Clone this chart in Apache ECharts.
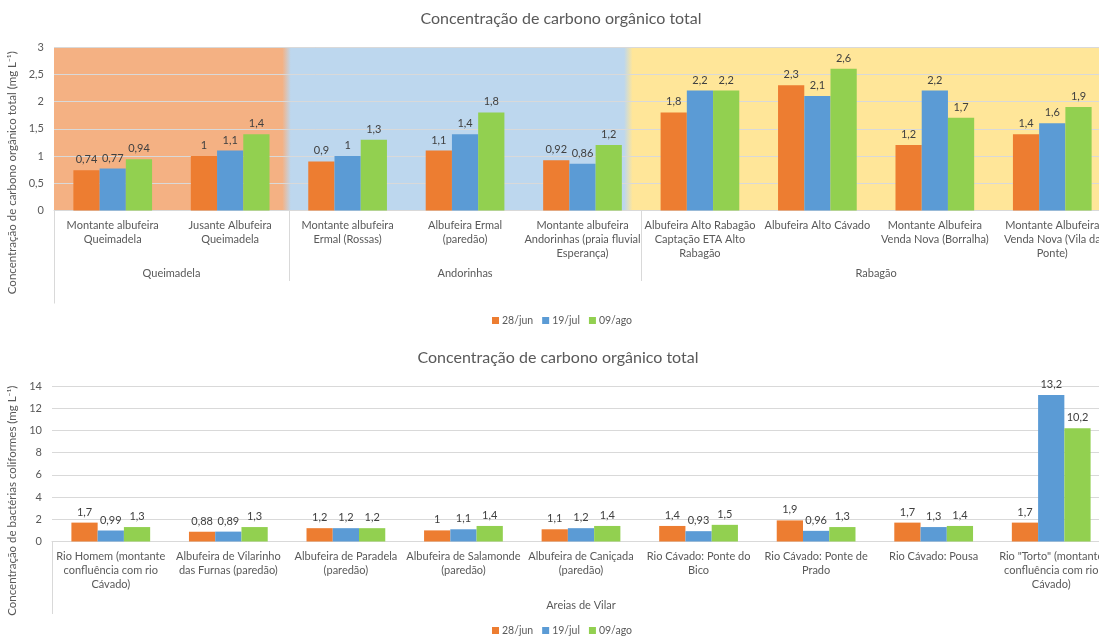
<!DOCTYPE html>
<html>
<head>
<meta charset="utf-8">
<script src="https://cdn.jsdelivr.net/npm/echarts@6/dist/echarts.min.js"></script>
<style>
  html, body { margin: 0; padding: 0; background: #fff; }
  #chart { width: 1099px; height: 636px; }
</style>
</head>
<body>
<div id="chart"></div>
<script>
// ---- Carbono orgânico total: albufeiras (Queimadela, Andorinhas, Rabagão) ----
const cotCategories = [
  'Montante albufeira\nQueimadela',
  'Jusante Albufeira\nQueimadela',
  'Montante albufeira\nErmal (Rossas)',
  'Albufeira Ermal\n(paredão)',
  'Montante albufeira\nAndorinhas (praia fluvial\nEsperança)',
  'Albufeira Alto Rabagão\nCaptação ETA Alto\nRabagão',
  'Albufeira Alto Cávado',
  'Montante Albufeira\nVenda Nova (Borralha)',
  'Montante Albufeira\nVenda Nova (Vila da\nPonte)'
];
const cotJun = [0.74, 1, 0.9, 1.1, 0.92, 1.8, 2.3, 1.2, 1.4];
const cotJul = [0.77, 1.1, 1, 1.4, 0.86, 2.2, 2.1, 2.2, 1.6];
const cotAgo = [0.94, 1.4, 1.3, 1.8, 1.2, 2.2, 2.6, 1.7, 1.9];

// Groups of the upper chart: name, label position and start of each group (in category units)
const cotGroups = ['Queimadela', 'Andorinhas', 'Rabagão'];
const cotGroupCenters = [1, 3.5, 7];
const cotGroupStarts = [0, 2, 5];
// Shaded backgrounds behind the groups (start/end in category units)
const cotRegionBounds = [0, 1.98, 4.89, 9];

// ---- Second chart: Areias de Vilar ----
const vilarCategories = [
  'Rio Homem (montante\nconfluência com rio\nCávado)',
  'Albufeira de Vilarinho\ndas Furnas (paredão)',
  'Albufeira de Paradela\n(paredão)',
  'Albufeira de Salamonde\n(paredão)',
  'Albufeira de Caniçada\n(paredão)',
  'Rio Cávado: Ponte do\nBico',
  'Rio Cávado: Ponte de\nPrado',
  'Rio Cávado: Pousa',
  'Rio "Torto" (montante\nconfluência com rio\nCávado)'
];
const vilarJun = [1.7, 0.88, 1.2, 1, 1.1, 1.4, 1.9, 1.7, 1.7];
const vilarJul = [0.99, 0.89, 1.2, 1.1, 1.2, 0.93, 0.96, 1.3, 13.2];
const vilarAgo = [1.3, 1.3, 1.2, 1.4, 1.4, 1.5, 1.3, 1.4, 10.2];
const vilarGroup = 'Areias de Vilar';

const seriesNames = ['28/jun', '19/jul', '09/ago'];

// ---- styling ----
const FONT = 'Lato, "Open Sans", sans-serif';
const TEXT = '#595959';
const LABEL = '#404040';
const GRID_LINE = '#D9D9D9';
const COLORS = ['#ED7D31', '#5B9BD5', '#92D050'];
const REGION_COLORS = ['#F4B183', '#BDD7EE', '#FFE699'];

const comma = v => String(v).replace('.', ',');

function regionGradient() {
  const total = cotRegionBounds[cotRegionBounds.length - 1];
  const stops = [];
  const soft = 0.004;
  for (let i = 0; i < REGION_COLORS.length; i++) {
    const a = cotRegionBounds[i] / total;
    const b = cotRegionBounds[i + 1] / total;
    stops.push({ offset: i === 0 ? a : a + soft, color: REGION_COLORS[i] });
    stops.push({ offset: i === REGION_COLORS.length - 1 ? b : b - soft, color: REGION_COLORS[i] });
  }
  return new echarts.graphic.LinearGradient(0, 0, 1, 0, stops);
}

function barSeries(name, data, color, xIdx, yIdx) {
  return {
    name, type: 'bar', data,
    xAxisIndex: xIdx, yAxisIndex: yIdx,
    barGap: '0%', barCategoryGap: '33%',
    z: 2,
    itemStyle: { color },
    label: {
      show: true, position: 'top', distance: 5,
      color: LABEL, fontFamily: FONT, fontSize: 11,
      formatter: p => comma(p.value)
    },
    emphasis: { disabled: true }
  };
}

function categoryAxis(gridIndex, data, margin) {
  return {
    type: 'category', gridIndex, data,
    axisLine: { show: true, lineStyle: { color: GRID_LINE, width: 1 } },
    axisTick: { show: false },
    axisLabel: {
      interval: 0, margin, color: TEXT, fontFamily: FONT,
      fontSize: 11, lineHeight: 14, hideOverlap: false
    },
    splitLine: { show: false }
  };
}

// hidden value axis spanning the categories, used for group labels and divider ticks
function groupAxis(gridIndex, offset, tickValues, labelValues, labelNames, labelMargin) {
  return {
    type: 'value', gridIndex, position: 'bottom', offset,
    min: 0, max: 9,
    axisLine: { show: false },
    splitLine: { show: false },
    axisTick: {
      show: true, inside: true, length: offset,
      customValues: tickValues,
      lineStyle: { color: GRID_LINE, width: 1 }
    },
    axisLabel: {
      show: labelValues.length > 0,
      customValues: labelValues,
      margin: labelMargin,
      color: TEXT, fontFamily: FONT, fontSize: 11,
      formatter: v => {
        const i = labelValues.indexOf(v);
        return i >= 0 ? labelNames[i] : '';
      }
    }
  };
}

function valueAxis(gridIndex, max, interval, name, nameGap, shift) {
  return {
    type: 'value', gridIndex, min: 0, max, interval,
    z: 1.5,
    axisLine: { show: false },
    axisTick: { show: false },
    axisLabel: { color: TEXT, fontFamily: FONT, fontSize: 11, margin: 10, formatter: comma },
    splitLine: { show: true, lineStyle: { color: GRID_LINE, width: 1 } },
    name, nameLocation: 'middle', nameGap,
    nameTextStyle: { color: TEXT, fontFamily: FONT, fontSize: 11.5, padding: [0, shift * 2, 0, 0] }
  };
}

const legendBase = {
  data: seriesNames,
  icon: 'rect', itemWidth: 7, itemHeight: 7, itemGap: 9,
  textStyle: { color: TEXT, fontFamily: FONT, fontSize: 10.5, padding: [0, 0, 0, -2] },
  padding: 0,
  selectedMode: false
};

const option = {
  animation: false,
  backgroundColor: '#ffffff',
  title: [
    { text: 'Concentração de carbono orgânico total', left: 561, top: 11, textAlign: 'center', padding: 0,
      textStyle: { color: TEXT, fontFamily: FONT, fontSize: 16, fontWeight: 'normal' } },
    { text: 'Concentração de carbono orgânico total', left: 558, top: 350, textAlign: 'center', padding: 0,
      textStyle: { color: TEXT, fontFamily: FONT, fontSize: 16, fontWeight: 'normal' } }
  ],
  legend: [
    Object.assign({ left: 492, top: 315 }, legendBase),
    Object.assign({ left: 492, top: 625 }, legendBase)
  ],
  grid: [
    { left: 54, top: 47, width: 1057, height: 163.5, outerBoundsMode: 'none', containLabel: false },
    { left: 52, top: 386, width: 1058, height: 155.5, outerBoundsMode: 'none', containLabel: false }
  ],
  xAxis: [
    categoryAxis(0, cotCategories, 8),
    groupAxis(0, 70.5, cotGroupStarts, cotGroupCenters, cotGroups, -13),
    groupAxis(0, 93, [0], [], [], 0),
    categoryAxis(1, vilarCategories, 7.5),
    groupAxis(1, 72.5, [0], [4.5], [vilarGroup], -14)
  ],
  yAxis: [
    valueAxis(0, 3, 0.5, 'Concentração de carbono orgânico total (mg L⁻¹)', 27, 44),
    valueAxis(1, 14, 2, 'Concentração de bactérias coliformes (mg L⁻¹)', 24, 37)
  ],
  series: [
    {
      name: 'fundo', type: 'line', data: [],
      xAxisIndex: 1, yAxisIndex: 0, z: 1,
      silent: true,
      markArea: {
        silent: true, z: 1,
        itemStyle: { color: regionGradient(), borderWidth: 0 },
        data: [[{ xAxis: cotRegionBounds[0] }, { xAxis: cotRegionBounds[cotRegionBounds.length - 1] }]]
      }
    },
    barSeries(seriesNames[0], cotJun, COLORS[0], 0, 0),
    barSeries(seriesNames[1], cotJul, COLORS[1], 0, 0),
    barSeries(seriesNames[2], cotAgo, COLORS[2], 0, 0),
    barSeries(seriesNames[0], vilarJun, COLORS[0], 3, 1),
    barSeries(seriesNames[1], vilarJul, COLORS[1], 3, 1),
    barSeries(seriesNames[2], vilarAgo, COLORS[2], 3, 1)
  ]
};

const chart = echarts.init(document.getElementById('chart'), null, { renderer: 'canvas' });
chart.setOption(option);
</script>
</body>
</html>
